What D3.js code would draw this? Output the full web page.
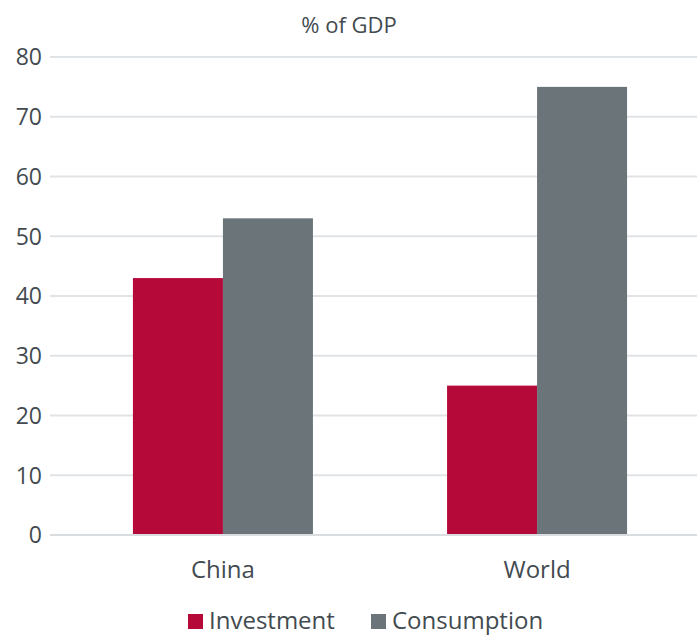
<!DOCTYPE html>
<html>
<head>
<meta charset="utf-8">
<script src="https://cdn.jsdelivr.net/npm/d3@7"></script>
<style>
  body { margin: 0; background: #fff; }
  text { font-family: "Open Sans", sans-serif; fill: #434b50; }
</style>
</head>
<body>
<svg id="chart" width="700" height="636"></svg>
<script>
// DATA
var categories = ['China', 'World'];
var seriesNames = ['Investment', 'Consumption'];
var investment = [43, 25];
var consumption = [53, 75];
var yTicks = [0, 10, 20, 30, 40, 50, 60, 70, 80];
var colors = ['#b5093a', '#6a7479'];

var svg = d3.select('#chart');

// Scales
var y = d3.scaleLinear()
            .domain([0, 80])
            .range([535, 57]);
var x0 = d3.scaleBand()
            .domain(categories)
            .range([50, 710])
            .paddingInner(0.427)
            .paddingOuter(0.264);
var x1 = d3.scaleBand()
            .domain(seriesNames)
            .range([0, x0.bandwidth()]);

// Gridlines
svg.append('g')
   .selectAll('line')
   .data(yTicks)
   .enter()
   .append('line')
   .attr('x1', 50)
   .attr('x2', 697)
   .attr('y1', function(d) { return y(d); })
   .attr('y2', function(d) { return y(d); })
   .style('stroke', '#e1e4e7')
   .style('stroke-width', '2px');

// Y-axis labels
svg.append('g')
   .selectAll('text')
   .data(yTicks)
   .enter()
   .append('text')
   .attr('x', 42)
   .attr('y', function(d) { return y(d); })
   .attr('dy', '0.36em')
   .attr('text-anchor', 'end')
   .style('font-size', '23px')
   .text(function(d) { return d; });

// Bars
var rows = categories.map(function(c, i) {
    return { cat: c, values: [investment[i], consumption[i]] };
});
var groups = svg.append('g')
   .selectAll('g')
   .data(rows)
   .enter()
   .append('g')
   .attr('transform', function(d) { return 'translate(' + x0(d.cat) + ',0)'; });
groups.selectAll('rect')
   .data(function(d) { return d.values.map(function(v, j) { return { key: seriesNames[j], v: v, j: j }; }); })
   .enter()
   .append('rect')
   .attr('x', function(d) { return x1(d.key); })
   .attr('y', function(d) { return y(d.v); })
   .attr('width', x1.bandwidth())
   .attr('height', function(d) { return y(0) - y(d.v); })
   .style('fill', function(d) { return colors[d.j]; });

// Baseline
svg.append('line')
   .attr('x1', 50).attr('x2', 697)
   .attr('y1', y(0)).attr('y2', y(0))
   .style('stroke', '#d9dde0')
   .style('stroke-width', '2px');

// Category labels
svg.append('g')
   .selectAll('text')
   .data(categories)
   .enter()
   .append('text')
   .attr('x', function(d) { return x0(d) + x0.bandwidth() / 2; })
   .attr('y', 578)
   .attr('text-anchor', 'middle')
   .style('font-size', '24px')
   .text(function(d) { return d; });

// Title
svg.append('text')
   .attr('x', 349)
   .attr('y', 33)
   .attr('text-anchor', 'middle')
   .style('font-size', '22px')
   .text('% of GDP');

// Legend
var legendX = [188, 371];
var legend = svg.append('g')
   .selectAll('g')
   .data(seriesNames)
   .enter()
   .append('g')
   .attr('transform', function(d, i) { return 'translate(' + legendX[i] + ',614)'; });
legend.append('rect')
   .attr('width', 15)
   .attr('height', 15)
   .style('fill', function(d, i) { return colors[i]; });
legend.append('text')
   .attr('x', 21)
   .attr('y', 15)
   .style('font-size', '24px')
   .text(function(d) { return d; });
</script>
</body>
</html>
